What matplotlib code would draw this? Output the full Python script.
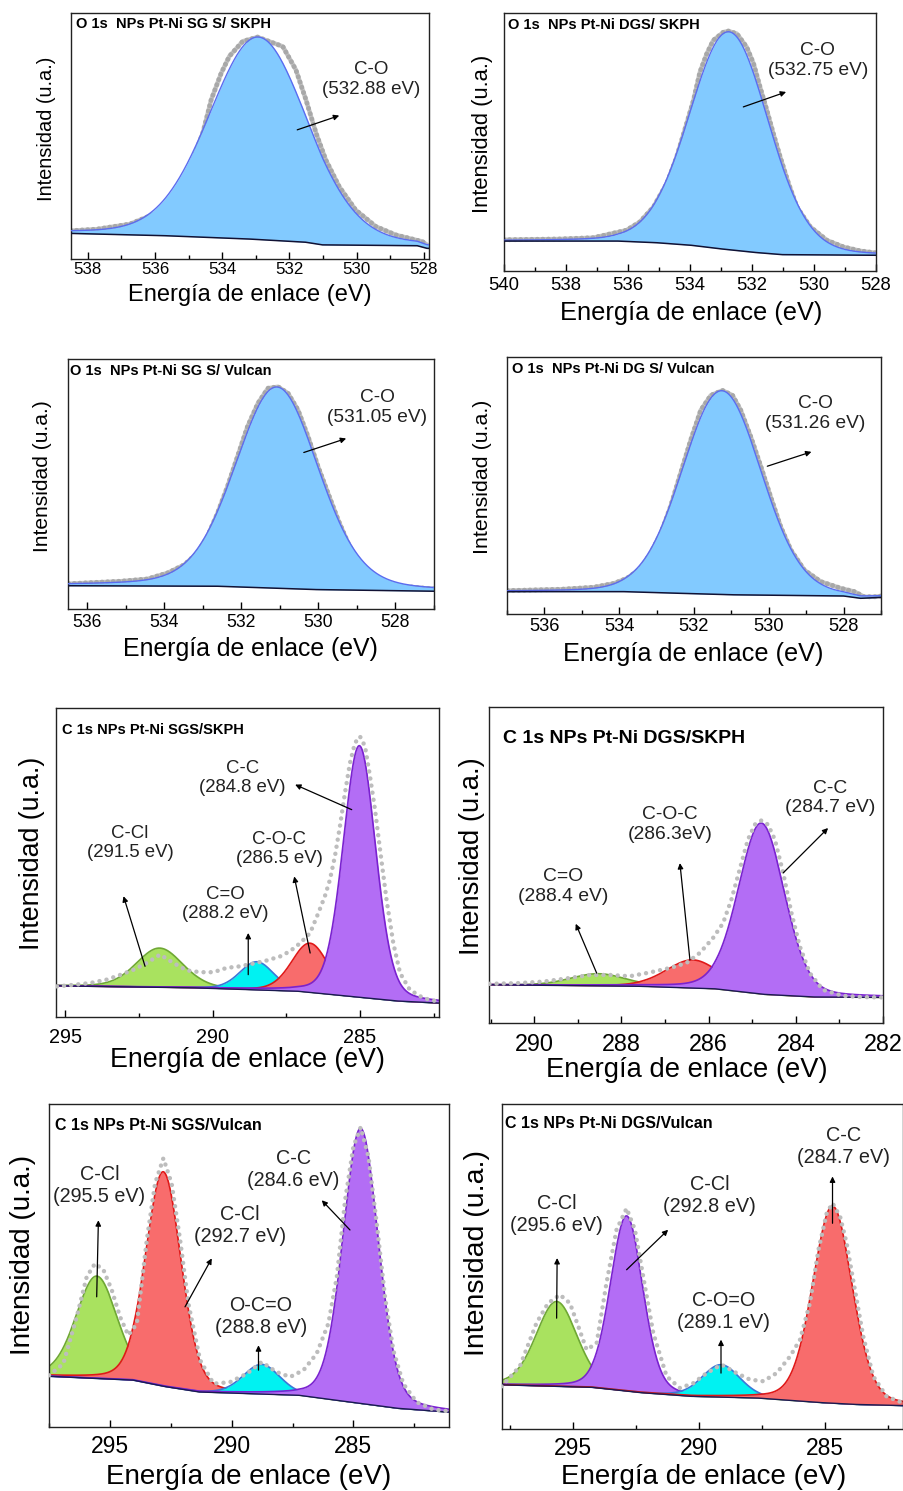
import numpy as np
import matplotlib
matplotlib.use("Agg")
import matplotlib.pyplot as plt
from matplotlib.ticker import MultipleLocator

plt.rcParams['font.family'] = ['Liberation Sans', 'DejaVu Sans']

W, H = 904, 1491

# ---------------- O 1s panels (energy in eV, intensity in % of panel height) ----------------
# O 1s NPs Pt-Ni SGS/SKPH
o1_E = [538.5, 537.74, 536.75, 535.96, 535.37, 534.87, 534.58, 534.33, 534.03, 533.79, 533.39,
        532.95, 532.2, 531.81, 531.51, 531.21, 530.92, 530.52, 530.03, 529.43, 528.84, 528.05, 527.9]
o1_I = [11.5, 12.1, 14.2, 18.6, 25.4, 40.3, 51.2, 64.7, 75.6, 82.4, 88.5,
        90.2, 86.4, 76.9, 64.7, 51.2, 40.3, 29.4, 19.9, 13.2, 9.8, 7.1, 5.7]
o1_bgE = [538.5, 535.5, 533.0, 531.5, 531.0, 528.2, 527.9]
o1_bg = [10.4, 9.4, 8.0, 6.8, 5.7, 5.4, 4.3]
o1_peak = [532.93, 82.3, 3.45, 0.15]   # position, height, FWHM, lorentz fraction

# O 1s NPs Pt-Ni DGS/SKPH
o2_E = [540.0, 538.2, 537.12, 536.05, 535.62, 535.18, 534.75, 534.43, 534.11, 533.89, 533.68,
        533.46, 533.25, 532.92, 532.76, 532.49, 532.17, 531.95, 531.74, 531.52, 531.31, 531.09,
        530.82, 530.55, 530.12, 529.58, 529.04, 528.51, 528.0]
o2_I = [12.1, 12.4, 12.9, 15.8, 19.0, 24.8, 33.9, 44.2, 57.1, 66.1, 77.1,
        84.2, 89.4, 92.6, 93.0, 92.0, 86.8, 80.4, 71.3, 62.3, 53.2, 44.2,
        33.9, 24.8, 17.1, 11.9, 9.3, 7.8, 7.0]
o2_bgE = [540.0, 536.26, 534.97, 533.89, 532.81, 531.74, 530.98, 528.0]
o2_bg = [11.6, 11.6, 10.9, 9.9, 8.3, 7.0, 6.3, 6.1]
o2_peak = [532.74, 84.5, 3.0, 0.1]

# O 1s NPs Pt-Ni SGS/Vulcan
o3_E = [536.48, 535.13, 534.44, 533.92, 533.48, 533.14, 532.88, 532.62, 532.36, 532.10, 531.84,
        531.57, 531.31, 531.05, 530.79, 530.53, 530.27, 530.01, 529.75, 529.49, 529.23, 528.89,
        528.45, 527.93, 527.32, 526.96]
o3_I = [10.1, 11.1, 12.0, 14.4, 17.7, 22.4, 29.0, 38.3, 49.0, 61.0, 73.0,
        82.3, 88.3, 88.9, 86.3, 79.6, 69.0, 57.0, 46.3, 35.7, 26.4, 17.0,
        11.7, 9.3, 8.4, 8.0]
o3_bgE = [536.48, 532.53, 529.93, 526.96]
o3_bg = [9.3, 9.1, 7.7, 7.1]
o3_peak = [531.08, 80.5, 2.55, 0.2]

# O 1s NPs Pt-Ni DGS/Vulcan
o4_E = [536.98, 535.57, 534.68, 534.14, 533.79, 533.43, 533.16, 532.89, 532.63, 532.36, 532.09,
        531.82, 531.55, 531.24, 530.97, 530.75, 530.48, 530.21, 529.95, 529.68, 529.41, 529.05,
        528.61, 528.07, 527.71, 527.45, 527.18, 526.98]
o4_I = [9.1, 9.6, 10.4, 11.9, 13.9, 17.7, 23.6, 31.3, 41.7, 54.7, 67.6,
        79.3, 85.1, 87.0, 85.1, 79.3, 68.9, 57.3, 45.6, 33.9, 24.9, 17.1,
        12.6, 10.0, 8.7, 6.7, 6.7, 7.0]
o4_bgE = [536.98, 533.79, 531.82, 530.75, 527.98, 527.54, 526.98]
o4_bg = [8.7, 8.7, 7.8, 7.4, 7.0, 6.1, 6.5]
o4_peak = [531.26, 79.3, 2.5, 0.1]

# ---------------- C 1s panels ----------------
# C 1s NPs Pt-Ni SGS/SKPH
c1_E = [295.28, 294.72, 294.15, 293.59, 293.14, 292.68, 292.23, 291.78, 291.33, 290.88, 290.42,
        289.97, 289.52, 289.07, 288.62, 288.16, 287.71, 287.37, 287.03, 286.69, 286.41, 286.19,
        286.02, 285.85, 285.68, 285.51, 285.34, 285.17, 285.0, 284.83, 284.66, 284.49, 284.32,
        284.10, 283.87, 283.64, 283.31, 282.85, 282.40]
c1_I = [9.9, 10.4, 11.0, 12.1, 13.6, 15.3, 17.5, 20.2, 17.5, 15.1, 14.5,
        14.5, 15.9, 16.4, 17.3, 18.3, 19.6, 21.3, 23.9, 27.2, 33.7, 39.1,
        44.4, 52.0, 61.7, 72.5, 82.2, 88.7, 90.8, 87.6, 77.9, 67.1, 54.2,
        38.0, 23.9, 14.2, 8.8, 6.1, 5.1]
c1_bgE = [295.31, 290.42, 287.03, 285.34, 283.64, 282.31]
c1_bg = [10.1, 9.4, 8.3, 6.7, 5.1, 4.5]
c1_pos = [291.8, 288.5, 286.69, 285.02]
c1_amp = [12.7, 9.1, 15.9, 81.4]
c1_fwhm = [1.86, 1.36, 1.47, 1.3]
c1_labels = ['C-Cl\n(291.5 eV)', 'C=O\n(288.2 eV)', 'C-O-C\n(286.5 eV)', 'C-C\n(284.8 eV)']

# C 1s NPs Pt-Ni DGS/SKPH
c2_E = [291.03, 290.40, 289.79, 289.26, 288.72, 288.27, 287.81, 287.35, 286.89, 286.51, 286.20,
        285.90, 285.67, 285.48, 285.29, 285.10, 284.94, 284.79, 284.64, 284.48, 284.29, 284.10,
        283.91, 283.68, 283.38, 282.92, 282.46, 282.0]
c2_I = [12.4, 12.6, 13.1, 14.1, 15.2, 15.2, 14.8, 16.0, 17.4, 19.0, 22.2,
        26.9, 31.6, 39.0, 48.5, 58.0, 62.8, 64.1, 62.8, 58.0, 47.5, 34.8,
        24.3, 15.8, 10.5, 8.6, 8.2, 8.1]
c2_bgE = [291.03, 287.5, 285.82, 284.68, 283.53, 282.0]
c2_bg = [12.1, 11.6, 10.8, 9.0, 8.2, 8.1]
c2_pos = [288.53, 286.36, 284.79]
c2_amp = [3.85, 8.9, 54.1]
c2_fwhm = [1.5, 1.45, 1.25]
c2_labels = ['C=O\n(288.4 eV)', 'C-O-C\n(286.3eV)', 'C-C\n(284.7 eV)']

# C 1s NPs Pt-Ni SGS/Vulcan
c3_E = [297.51, 296.92, 296.37, 295.96, 295.62, 295.27, 294.93, 294.59, 294.25, 293.90, 293.49,
        293.15, 292.81, 292.47, 292.12, 291.78, 291.30, 290.75, 290.07, 289.38, 288.77, 288.15,
        287.60, 287.05, 286.51, 286.03, 285.68, 285.34, 285.0, 284.70, 284.38, 284.04, 283.70,
        283.36, 282.95, 282.40, 281.71, 281.10]
c3_I = [16.0, 19.6, 34.1, 46.5, 50.6, 48.6, 42.4, 34.1, 28.4, 32.0, 57.9,
        75.4, 83.2, 75.4, 57.9, 38.2, 20.7, 13.4, 13.9, 16.5, 20.1, 17.0,
        15.5, 17.6, 22.7, 32.0, 46.5, 70.2, 86.8, 92.8, 83.7, 63.0, 40.3,
        23.8, 13.4, 7.7, 5.4, 4.9]
c3_bgE = [297.51, 294.04, 292.67, 291.30, 287.19, 285.14, 283.08, 281.05]
c3_bg = [15.7, 14.5, 12.4, 10.8, 9.8, 7.7, 5.7, 4.6]
c3_pos = [295.55, 292.81, 288.77, 284.7]
c3_amp = [31.7, 66.4, 9.2, 85.2]
c3_fwhm = [2.0, 1.71, 1.78, 1.71]
c3_labels = ['C-Cl\n(295.5 eV)', 'C-Cl\n(292.7 eV)', 'O-C=O\n(288.8 eV)', 'C-C\n(284.6 eV)']

# C 1s NPs Pt-Ni DGS/Vulcan
c4_E = [297.85, 297.12, 296.46, 296.0, 295.53, 295.13, 294.80, 294.47, 294.07, 293.68, 293.28,
        292.88, 292.55, 292.22, 291.82, 291.29, 290.76, 290.23, 289.70, 289.11, 288.51, 287.98,
        287.45, 286.92, 286.39, 285.99, 285.60, 285.26, 284.93, 284.70, 284.40, 284.14, 283.81,
        283.48, 283.08, 282.55, 281.89]
c4_I = [13.1, 19.3, 32.6, 38.7, 41.3, 38.7, 31.6, 24.4, 26.4, 44.9, 61.3,
        67.9, 61.3, 46.9, 29.5, 16.2, 12.6, 14.1, 17.2, 19.8, 17.2, 15.2,
        14.7, 17.2, 22.3, 27.5, 38.7, 55.1, 66.4, 69.5, 65.4, 57.2, 42.8,
        28.5, 16.2, 10.0, 8.0]
c4_bgE = [297.85, 294.21, 292.22, 290.23, 287.58, 284.93, 283.61, 281.86]
c4_bg = [13.6, 12.8, 11.1, 10.0, 9.5, 8.0, 7.5, 7.2]
c4_pos = [295.66, 292.88, 289.13, 284.7]
c4_amp = [26.1, 53.9, 10.0, 60.7]
c4_fwhm = [1.92, 1.52, 1.79, 1.85]
c4_labels = ['C-Cl\n(295.6 eV)', 'C-Cl\n(292.8 eV)', 'C-O=O\n(289.1 eV)', 'C-C\n(284.7 eV)']

XLABEL = 'Energía de enlace (eV)'
YLABEL = 'Intensidad (u.a.)'

GREEN = ('#a9e25f', '#6fa834')
CYAN = ('#00f2f2', '#3a78d8')
RED = ('#f86c6c', '#e01818')
PURPLE = ('#b36df5', '#7a22d0')


def pv(E, pos, amp, fwhm, eta):
    g = np.exp(-4 * np.log(2) * ((E - pos) / fwhm) ** 2)
    l = 1 / (1 + 4 * ((E - pos) / fwhm) ** 2)
    return amp * ((1 - eta) * g + eta * l)


def baseline(grid, bgE, bg):
    order = np.argsort(bgE)
    return np.interp(grid, np.array(bgE)[order], np.array(bg)[order])


fig = plt.figure(figsize=(W / 100, H / 100), dpi=100)


def make_axes(x0, y0, x1, y1, xlim, major, minor, tfs, pad):
    ax = fig.add_axes([x0 / W, 1 - y1 / H, (x1 - x0) / W, (y1 - y0) / H])
    ax.set_xlim(*xlim)
    ax.set_ylim(0, 100)
    ax.set_yticks([])
    ax.xaxis.set_major_locator(MultipleLocator(major))
    ax.xaxis.set_minor_locator(MultipleLocator(minor))
    ax.tick_params(axis='x', which='major', direction='in', length=5, width=1,
                   labelsize=tfs, pad=pad)
    ax.tick_params(axis='x', which='minor', direction='in', length=3, width=1)
    for s in ax.spines.values():
        s.set_linewidth(1.0)
        s.set_color('#222222')
    return ax


def labels(title, tpos, tfs, ypos, yfs, xpos, xfs):
    fig.text(tpos[0] / W, 1 - tpos[1] / H, title, ha='left', va='center',
             fontweight='bold', fontsize=tfs)
    fig.text(ypos[0] / W, 1 - ypos[1] / H, YLABEL, rotation=90, ha='center',
             va='center', fontsize=yfs)
    fig.text(xpos[0] / W, 1 - xpos[1] / H, XLABEL, ha='center', va='center',
             fontsize=xfs)


def annot(ax, text, txy, tail, head, fs):
    ax.text(txy[0], txy[1], text, ha='center', va='center', fontsize=fs,
            color='#222222', zorder=6)
    ax.annotate('', xy=head, xytext=tail, zorder=6,
                arrowprops=dict(arrowstyle='-|>', lw=0.9, color='black',
                                mutation_scale=8, shrinkA=0, shrinkB=0))


def draw_o(ax, E, I, bgE, bg, peak):
    lo, hi = sorted(ax.get_xlim())
    grid = np.linspace(lo, hi, 700)
    base = baseline(grid, bgE, bg)
    env = base + pv(grid, *peak)
    # measured points: dense grey dots forming a band
    ax.plot(E, I, color='#c4c4c4', lw=3.2, solid_capstyle='round',
            solid_joinstyle='round', zorder=1)
    ax.plot(E, I, color='#a8a8a8', lw=3.6, ls=(0, (0.01, 1.1)),
            dash_capstyle='round', zorder=1.1)
    ax.fill_between(grid, base, env, color='#82caff', lw=0, zorder=2)
    ax.plot(grid, env, color='#5a6cf0', lw=1.0, zorder=3)
    ax.plot(grid, base, color='#111133', lw=1.1, zorder=3)


def draw_c(ax, E, I, bgE, bg, pos, amp, fwhm, colors):
    lo, hi = sorted(ax.get_xlim())
    grid = np.linspace(lo, hi, 900)
    base = baseline(grid, bgE, bg)
    for k in range(len(pos)):
        comp = base + pv(grid, pos[k], amp[k], fwhm[k], 0.2)
        ax.fill_between(grid, base, comp, color=colors[k][0], lw=0, zorder=2 + k * 0.1)
        ax.plot(grid, comp, color=colors[k][1], lw=1.2, zorder=2.05 + k * 0.1)
    ax.plot(grid, base, color='#1a1a50', lw=1.0, zorder=3)
    ax.plot(E, I, color='#bdbdbd', lw=3.2, ls=(0, (0.01, 1.6)),
            dash_capstyle='round', zorder=4)


# ---- panel 1 ----
ax = make_axes(71, 13, 429, 259, (538.5, 527.85), 2, 1, 12.2, 2.5)
draw_o(ax, o1_E, o1_I, o1_bgE, o1_bg, o1_peak)
annot(ax, 'C-O\n(532.88 eV)', (529.57, 72.9), (531.77, 52.5), (530.52, 58.3), 13.5)
labels('O 1s  NPs Pt-Ni SG S/ SKPH', (76, 24), 10.5, (47, 129), 14.4, (250, 295), 17)

# ---- panel 2 ----
ax = make_axes(504, 13, 876, 271, (540, 528), 2, 1, 13.3, 4.2)
draw_o(ax, o2_E, o2_I, o2_bgE, o2_bg, o2_peak)
annot(ax, 'C-O\n(532.75 eV)', (529.88, 81.7), (532.28, 63.6), (530.9, 69.4), 13.8)
labels('O 1s  NPs Pt-Ni DGS/ SKPH', (508, 25), 10.5, (483, 134), 15.8, (691, 313), 18.3)

# ---- panel 3 ----
ax = make_axes(68, 359, 434, 609, (536.5, 527.0), 2, 1, 12.7, 3.5)
draw_o(ax, o3_E, o3_I, o3_bgE, o3_bg, o3_peak)
annot(ax, 'C-O\n(531.05 eV)', (528.47, 80.7), (530.38, 62.6), (529.28, 68.2), 13.8)
labels('O 1s  NPs Pt-Ni SG S/ Vulcan', (70, 371), 10.5, (43, 476), 15.1, (250, 649), 17.9)

# ---- panel 4 ----
ax = make_axes(507, 357, 881, 614, (537, 527), 2, 1, 13.2, 2.8)
draw_o(ax, o4_E, o4_I, o4_bgE, o4_bg, o4_peak)
annot(ax, 'C-O\n(531.26 eV)', (528.76, 78.0), (530.04, 57.5), (528.86, 63.1), 13.8)
labels('O 1s  NPs Pt-Ni DG S/ Vulcan', (512, 369), 10.5, (483, 477), 15.4, (693, 654), 18.2)

# ---- panel 5 ----
ax = make_axes(56, 708, 439, 1017, (295.31, 282.32), 5, 2.5, 14.3, 7.8)
draw_c(ax, c1_E, c1_I, c1_bgE, c1_bg, c1_pos, c1_amp, c1_fwhm, [GREEN, CYAN, RED, PURPLE])
annot(ax, c1_labels[0], (292.8, 56.3), (292.29, 16.4), (293.02, 39.1), 13.4)
annot(ax, c1_labels[1], (289.58, 36.6), (288.79, 13.7), (288.79, 27.2), 13.4)
annot(ax, c1_labels[2], (287.73, 54.4), (286.69, 20.7), (287.23, 45.5), 13.4)
annot(ax, c1_labels[3], (288.98, 77.3), (285.28, 67.1), (287.2, 75.2), 13.4)
labels('C 1s NPs Pt-Ni SGS/SKPH', (62, 730), 10.5, (32, 853), 19.3, (247, 1060), 19.3)

# ---- panel 6 ----
ax = make_axes(489, 707, 883, 1023, (291.04, 282.0), 2, 1, 16.8, 7)
draw_c(ax, c2_E, c2_I, c2_bgE, c2_bg, c2_pos, c2_amp, c2_fwhm, [GREEN, RED, PURPLE])
annot(ax, c2_labels[0], (289.34, 43.2), (288.57, 15.8), (289.05, 31.4), 13.9)
annot(ax, c2_labels[1], (286.89, 62.8), (286.43, 20.0), (286.66, 50.6), 13.9)
annot(ax, c2_labels[2], (283.22, 71.2), (284.29, 47.5), (283.26, 61.7), 13.9)
labels('C 1s NPs Pt-Ni DGS/SKPH', (503, 739), 14, (472, 856), 19.7, (687, 1070), 19.7)

# ---- panel 7 ----
ax = make_axes(49, 1104, 449, 1427, (297.51, 281.07), 5, 2.5, 16.5, 5.7)
draw_c(ax, c3_E, c3_I, c3_bgE, c3_bg, c3_pos, c3_amp, c3_fwhm, [GREEN, RED, CYAN, PURPLE])
annot(ax, c3_labels[0], (295.44, 74.9), (295.55, 40.3), (295.48, 64.0), 14.2)
annot(ax, c3_labels[1], (289.66, 62.5), (291.92, 37.2), (290.82, 52.2), 14.2)
annot(ax, c3_labels[2], (288.81, 34.1), (288.9, 17.6), (288.9, 25.3), 14.2)
annot(ax, c3_labels[3], (287.47, 79.8), (285.14, 61.0), (286.3, 70.2), 14.2)
labels('C 1s NPs Pt-Ni SGS/Vulcan', (55, 1126), 11.5, (23, 1255), 20, (249, 1477), 20)

# ---- panel 8 ----
ax = make_axes(502, 1104, 903, 1429, (297.83, 281.9), 5, 2.5, 16.5, 5.5)
draw_c(ax, c4_E, c4_I, c4_bgE, c4_bg, c4_pos, c4_amp, c4_fwhm, [GREEN, PURPLE, CYAN, RED])
annot(ax, c4_labels[0], (295.66, 65.9), (295.66, 34.1), (295.64, 52.6), 14.3)
annot(ax, c4_labels[1], (289.57, 72.0), (292.88, 49.0), (291.23, 61.3), 14.3)
annot(ax, c4_labels[2], (289.04, 36.2), (289.13, 17.2), (289.13, 27.5), 14.3)
annot(ax, c4_labels[3], (284.27, 86.9), (284.7, 63.3), (284.7, 77.7), 14.3)
labels('C 1s NPs Pt-Ni DGS/Vulcan', (505, 1123), 11.5, (477, 1253), 20.5, (704, 1477), 20)

fig.savefig('out.png', dpi=100)
